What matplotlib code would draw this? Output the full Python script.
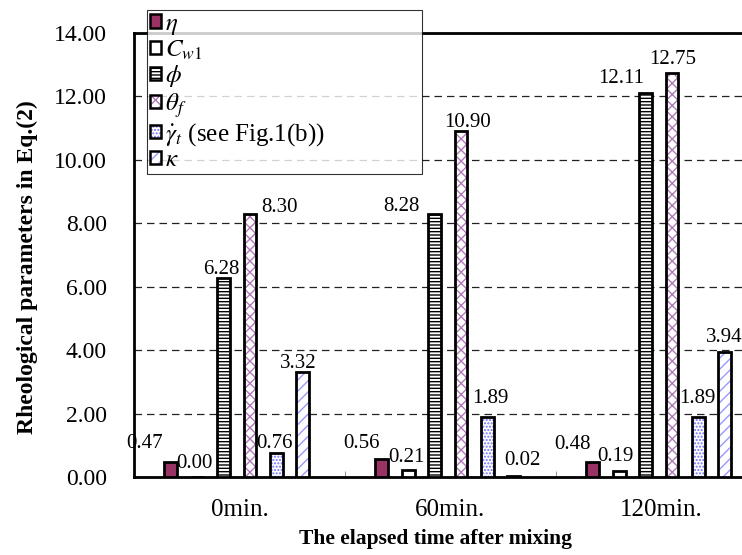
import matplotlib
matplotlib.use("Agg")
import matplotlib.pyplot as plt
from matplotlib.patches import Patch
import numpy as np

plt.rcParams['font.family'] = ['Liberation Serif', 'DejaVu Serif']
plt.rcParams['mathtext.fontset'] = 'stix'
plt.rcParams['hatch.linewidth'] = 1.0

# data
times = ['0min.', '60min.', '120min.']
series = [r'$\eta$', r'$C_{w1}$', r'$\phi$', r'$\theta_f$',
          r'$\dot{\gamma}_t$ (see Fig.1(b))', r'$\kappa$']
eta = [0.47, 0.56, 0.48]
c_w1 = [0.00, 0.21, 0.19]
phi = [6.28, 8.28, 12.11]
theta_f = [8.30, 10.90, 12.75]
gamma_t = [0.76, 1.89, 1.89]
kappa = [3.32, 0.02, 3.94]
values = [eta, c_w1, phi, theta_f, gamma_t, kappa]

# styles: (facecolor, hatch, hatch colour)
styles = [('#993366', None, '#993366'),
          ('white', None, 'white'),
          ('white', '-----', 'black'),
          ('white', 'xxx', '#b07ab8'),
          ('white', '.....', '#6f6fff'),
          ('white', '///', '#9999ff')]

# label nudges in pixels (dx, dy) per series per group
nudges = [[(-26, 14), (-20, 11), (-20, 13)],
          [(-3, 9), (-2, 8), (-4, 10)],
          [(-2, 4), (-33, 3), (-24, 10)],
          [(30, 2), (7, 4), (1, 9)],
          [(-2, 5), (3, 14), (-1, 14)],
          [(-4, 4), (9, 11), (0, 10)]]

fig = plt.figure(figsize=(7.42, 5.55), dpi=100)
ax = fig.add_axes([134 / 742, 78 / 555, 633 / 742, 444 / 555])

x = np.arange(len(times))
w = 0.06
step = 0.125
handles = []
for i, vals in enumerate(values):
    fc, hatch, hc = styles[i]
    pos = x + (i - 2.5) * step - 0.013
    ax.bar(pos, vals, w, color=fc, hatch=hatch, edgecolor=hc, linewidth=0, zorder=3)
    ax.bar(pos, vals, w, fill=False, edgecolor='black', linewidth=2, zorder=4)
    for j, v in enumerate(vals):
        dx, dy = nudges[i][j]
        ax.annotate(f'{v:.2f}', (pos[j], v), xytext=(dx, dy), textcoords='offset pixels',
                    ha='center', va='baseline', fontsize=15)
    handles.append((Patch(facecolor=fc, hatch=hatch, edgecolor=hc, linewidth=0),
                    Patch(fill=False, edgecolor='black', linewidth=1.8)))

ax.set_xlim(-0.5, 2.5)
ax.set_ylim(0, 14)
ax.set_yticks(np.arange(0, 15, 2))
ax.set_yticklabels([f'{t:.2f}' for t in np.arange(0, 15, 2)])
ax.set_xticks(x)
ax.set_xticklabels(times)
ax.set_xticks([0.5, 1.5], minor=True)
ax.tick_params(axis='y', length=0, pad=19.5, labelsize=17)
ax.tick_params(axis='x', which='major', length=0, pad=16, labelsize=18)
ax.tick_params(axis='x', which='minor', direction='in', length=4, color='gray')

ax.yaxis.grid(True, color='#222222', linestyle=(0, (6, 4)), linewidth=0.9)
ax.set_axisbelow(True)
for s in ['left', 'bottom', 'top']:
    ax.spines[s].set_linewidth(2)
ax.spines['right'].set_visible(False)

ax.set_ylabel('Rheological parameters in Eq.(2)', fontsize=17, fontweight='bold')
ax.yaxis.set_label_coords(-0.152, 0.473)
ax.set_xlabel('The elapsed time after mixing', fontsize=15.5, fontweight='bold')
ax.xaxis.set_label_coords(0.477, -0.118)

leg = fig.legend(handles, series, loc='upper left',
                 bbox_to_anchor=(147 / 742, 1 - 176 / 555, 275 / 742, 166 / 555),
                 mode='expand', fontsize=18, frameon=True, fancybox=False,
                 handlelength=0.45, handleheight=0.45, handletextpad=0.15,
                 labelspacing=0.06, borderpad=0.12, borderaxespad=0)
leg.get_frame().set_edgecolor('black')
leg.get_frame().set_linewidth(0.8)
leg.set_zorder(10)

fig.savefig('out.png', dpi=100)
